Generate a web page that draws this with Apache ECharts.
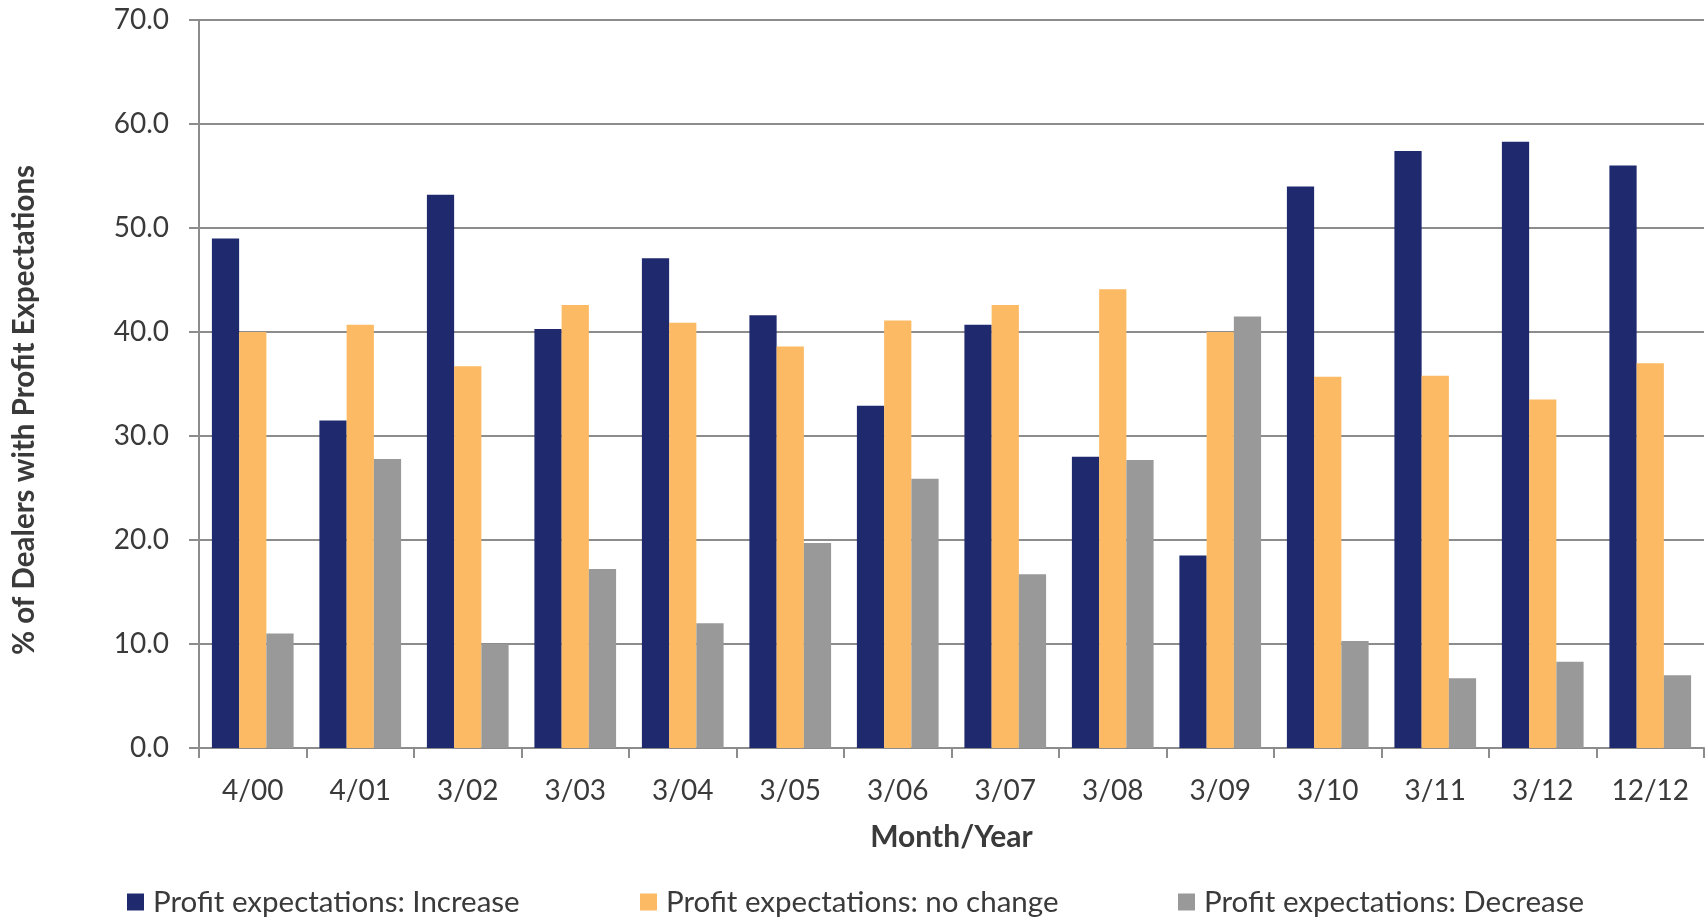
<!DOCTYPE html>
<html>
<head>
<meta charset="utf-8">
<script src="https://cdn.jsdelivr.net/npm/echarts@6/dist/echarts.min.js"></script>
<style>
  html, body { margin: 0; padding: 0; background: #fff; }
  #chart { width: 1707px; height: 918px; }
</style>
</head>
<body>
<div id="chart"></div>
<script>
// Survey periods (month/year)
const categories = ['4/00', '4/01', '3/02', '3/03', '3/04', '3/05', '3/06', '3/07', '3/08', '3/09', '3/10', '3/11', '3/12', '12/12'];

// % of dealers by profit expectation
const increaseValues = [49.0, 31.5, 53.2, 40.3, 47.1, 41.6, 32.9, 40.7, 28.0, 18.5, 54.0, 57.4, 58.3, 56.0];
const noChangeValues = [40.0, 40.7, 36.7, 42.6, 40.9, 38.6, 41.1, 42.6, 44.1, 40.0, 35.7, 35.8, 33.5, 37.0];
const decreaseValues = [11.0, 27.8, 10.0, 17.2, 12.0, 19.7, 25.9, 16.7, 27.7, 41.5, 10.3, 6.7, 8.3, 7.0];

const seriesNames = ['Profit expectations: Increase', 'Profit expectations: no change', 'Profit expectations: Decrease'];
const seriesColors = ['#1F2A6E', '#FBBA63', '#999999'];

const FONT = 'Lato';
const TEXT = '#3a3a3a';
const LINE = '#8c8c8c';

const chart = echarts.init(document.getElementById('chart'), null, { renderer: 'canvas' });

function legendAt(idx, left) {
  return {
    data: [seriesNames[idx]],
    left: left,
    top: 887,
    padding: 0,
    itemWidth: 17,
    itemHeight: 17,
    itemGap: 0,
    icon: 'rect',
    textStyle: { fontFamily: FONT, fontSize: 29.5, color: TEXT, padding: [0, 0, 0, 4] }
  };
}

chart.setOption({
  animation: false,
  backgroundColor: '#ffffff',
  grid: { left: 199, right: 3, top: 20, bottom: 170 },
  legend: [legendAt(0, 127), legendAt(1, 640), legendAt(2, 1178)],
  graphic: [{
    type: 'text',
    x: 24,
    y: 410,
    rotation: Math.PI / 2,
    style: {
      text: '% of Dealers with Profit Expectations',
      fontFamily: FONT,
      fontSize: 29.5,
      fontWeight: 'bold',
      fill: TEXT,
      align: 'center',
      verticalAlign: 'middle'
    }
  }],
  xAxis: {
    type: 'category',
    data: categories,
    name: 'Month/Year',
    nameLocation: 'middle',
    nameGap: 74,
    nameTextStyle: { fontFamily: FONT, fontSize: 30, fontWeight: 'bold', color: TEXT },
    axisLine: { lineStyle: { color: LINE, width: 2 } },
    axisTick: { show: true, length: 10, lineStyle: { color: LINE, width: 2 } },
    axisLabel: { fontFamily: FONT, fontSize: 28, color: TEXT, margin: 29 }
  },
  yAxis: {
    type: 'value',
    min: 0,
    max: 70,
    interval: 10,
    axisLine: { show: true, lineStyle: { color: LINE, width: 2 } },
    axisTick: { show: true, length: 10, lineStyle: { color: LINE, width: 2 } },
    axisLabel: {
      fontFamily: FONT, fontSize: 28, color: TEXT, margin: 30,
      formatter: v => v.toFixed(1)
    },
    splitLine: { show: true, lineStyle: { color: LINE, width: 2 } }
  },
  series: [
    { name: seriesNames[0], type: 'bar', data: increaseValues, itemStyle: { color: seriesColors[0] }, barGap: '0%', barCategoryGap: '24%' },
    { name: seriesNames[1], type: 'bar', data: noChangeValues, itemStyle: { color: seriesColors[1] }, barGap: '0%', barCategoryGap: '24%' },
    { name: seriesNames[2], type: 'bar', data: decreaseValues, itemStyle: { color: seriesColors[2] }, barGap: '0%', barCategoryGap: '24%' }
  ]
});
</script>
</body>
</html>
